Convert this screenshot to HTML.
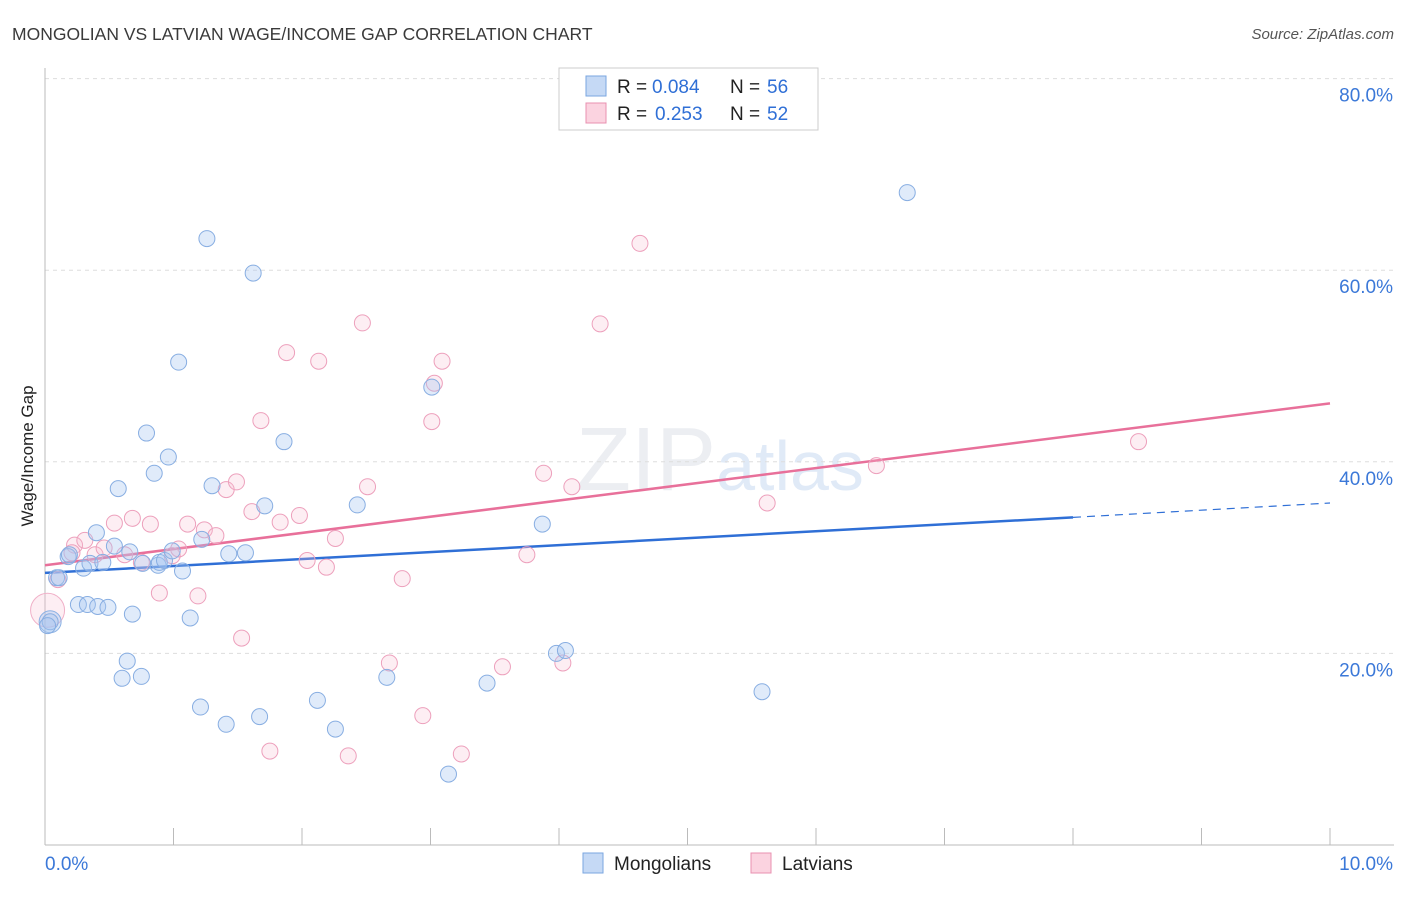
<!DOCTYPE html>
<html><head><meta charset="utf-8"><style>
body{margin:0;background:#fff;font-family:"Liberation Sans",sans-serif;}
svg text{font-family:"Liberation Sans",sans-serif;}
</style></head><body>
<svg id="chart" width="1406" height="892" xmlns="http://www.w3.org/2000/svg">
<text x="12" y="40" font-size="17.5" fill="#3a3a3a">MONGOLIAN VS LATVIAN WAGE/INCOME GAP CORRELATION CHART</text>
<text x="1394" y="39" font-size="15" fill="#555" text-anchor="end" font-style="italic">Source: ZipAtlas.com</text>
<text transform="translate(33,456) rotate(-90)" font-size="17" fill="#222" text-anchor="middle">Wage/Income Gap</text>
<text x="720" y="490" font-size="90" fill="#eceef2" text-anchor="middle" font-family="Liberation Serif">ZIP<tspan fill="#e0eaf7" font-family="Liberation Sans" font-size="70">atlas</tspan></text>
<g id="grid"></g><g id="lines"></g><g id="pts"></g>
<g>
<rect x="559" y="68" width="259" height="62" fill="#fff" stroke="#ccc"/>
<rect x="586" y="76" width="20" height="20" fill="#c5d9f5" stroke="#7aa6e0"/>
<rect x="586" y="103" width="20" height="20" fill="#fbd3e0" stroke="#e890b0"/>
<text x="617" y="93" font-size="19" fill="#222">R =</text>
<text x="652" y="93" font-size="19" fill="#2f6fd6">0.084</text>
<text x="730" y="93" font-size="19" fill="#222">N =</text>
<text x="767" y="93" font-size="19" fill="#2f6fd6">56</text>
<text x="617" y="120" font-size="19" fill="#222">R =</text>
<text x="655" y="120" font-size="19" fill="#2f6fd6">0.253</text>
<text x="730" y="120" font-size="19" fill="#222">N =</text>
<text x="767" y="120" font-size="19" fill="#2f6fd6">52</text>
</g>
<g>
<rect x="583" y="853" width="20" height="20" fill="#c5d9f5" stroke="#7aa6e0"/>
<text x="614" y="870" font-size="19" fill="#222">Mongolians</text>
<rect x="751" y="853" width="20" height="20" fill="#fbd3e0" stroke="#e890b0"/>
<text x="782" y="870" font-size="19" fill="#222">Latvians</text>
</g>
</svg>
<script>
const yTicks=[20,40,60,80];
const xTickLabels=["0.0%","10.0%"];
const blueX=[.04,.02,.09,.11,.18,.19,.30,.35,.40,.26,.33,.41,.49,.45,.54,.57,.66,.68,.64,.60,.75,.79,.85,.76,.88,.89,.93,.96,.99,1.04,1.07,1.13,1.21,1.22,1.26,1.30,1.41,1.43,1.56,1.62,1.67,1.71,1.86,2.12,2.26,2.43,2.66,3.01,3.14,3.44,3.87,3.98,4.05,5.58,6.71];
const blueY=[23.3,22.9,27.9,27.9,30.1,30.3,28.9,29.4,32.6,25.1,25.1,24.9,24.8,29.5,31.2,37.2,30.6,24.1,19.2,17.4,17.6,43.0,38.8,29.4,29.2,29.5,29.7,40.5,30.7,50.4,28.6,23.7,14.4,31.9,63.3,37.5,12.6,30.4,30.5,59.7,13.4,35.4,42.1,15.1,12.1,35.5,17.5,47.8,7.4,16.9,33.5,20.0,20.3,16.0,68.1];
const pinkX=[.10,.23,.31,.21,.39,.46,.54,.62,.68,.75,.82,.89,.99,1.04,1.11,1.19,1.24,1.33,1.41,1.49,1.53,1.61,1.68,1.75,1.83,1.88,1.98,2.04,2.13,2.19,2.26,2.36,2.47,2.51,2.68,2.78,2.94,3.01,3.03,3.09,3.24,3.56,3.75,3.88,4.03,4.10,4.32,4.63,5.62,6.47,8.51];
const pinkY=[27.7,31.3,31.8,30.5,30.3,31.0,33.6,30.3,34.1,29.5,33.5,26.3,30.2,30.9,33.5,26.0,32.9,32.3,37.1,37.9,21.6,34.8,44.3,9.8,33.7,51.4,34.4,29.7,50.5,29.0,32.0,9.3,54.5,37.4,19.0,27.8,13.5,44.2,48.2,50.5,9.5,18.6,30.3,38.8,19.0,37.4,54.4,62.8,35.7,39.6,42.1];
const blueLine=[28.4,34.2,35.7]; // at x=0, 8, 10
const pinkLine=[29.2,46.1];      // at x=0, 10
const X=v=>45+v*128.5, Y=v=>845-v*9.58;
const NS="http://www.w3.org/2000/svg";
function mk(p,t,a){const e=document.createElementNS(NS,t);for(const k in a)e.setAttribute(k,a[k]);p.appendChild(e);return e;}
const g=document.getElementById('grid');
yTicks.forEach(t=>{
 const l=mk(g,'line',{x1:45,x2:1394,y1:Y(t),y2:Y(t),stroke:'#ddd','stroke-dasharray':'4,4'});
 
 
 const tx=mk(g,'text',{x:1393,y:Y(t)+23,'font-size':19,fill:'#3b78d8','text-anchor':'end'});tx.textContent=t+'.0%';
 
 
});
const ax=mk(g,'line',{x1:45,x2:1394,y1:845,y2:845,stroke:'#bbb'});


const ay=mk(g,'line',{x1:45,x2:45,y1:68,y2:845,stroke:'#bbb'});


for(let i=1;i<=10;i++){const t=mk(g,'line',{x1:X(i),x2:X(i),y1:828,y2:845,stroke:'#bbb'});
 
 }
const x0=mk(g,'text',{x:45,y:870,'font-size':19,fill:'#3b78d8'});x0.textContent=xTickLabels[0];


const x1=mk(g,'text',{x:1393,y:870,'font-size':19,fill:'#3b78d8','text-anchor':'end'});x1.textContent=xTickLabels[1];


const P=document.getElementById('pts');
function pt(x,y,r,f,s,n){const c=mk(P,'circle',{cx:X(x),cy:Y(y),r:r,fill:f,stroke:s,'stroke-width':1});
 
 }
pt(.02,24.5,17,'rgba(248,187,208,0.25)','#f0b0c8','latvian-point');
pinkX.forEach((x,i)=>pt(x,pinkY[i],8,'rgba(248,187,208,0.25)','#eda0bc','latvian-point'));
pt(.04,23.3,11,'rgba(160,196,240,0.4)','#8cb2e4','mongolian-point');
blueX.forEach((x,i)=>pt(x,blueY[i],8,'rgba(165,198,240,0.35)','#88aee2','mongolian-point'));
const L=document.getElementById('lines');
const bl=mk(L,'line',{x1:X(0),y1:Y(blueLine[0]),x2:X(8),y2:Y(blueLine[1]),stroke:'#2f6fd6','stroke-width':2.5});


const bd=mk(L,'line',{x1:X(8),y1:Y(blueLine[1]),x2:X(10),y2:Y(blueLine[2]),stroke:'#2f6fd6','stroke-width':1.2,'stroke-dasharray':'8,6'});


const pl=mk(L,'line',{x1:X(0),y1:Y(pinkLine[0]),x2:X(10),y2:Y(pinkLine[1]),stroke:'#e8709a','stroke-width':2.5});


</script>
</body></html>
